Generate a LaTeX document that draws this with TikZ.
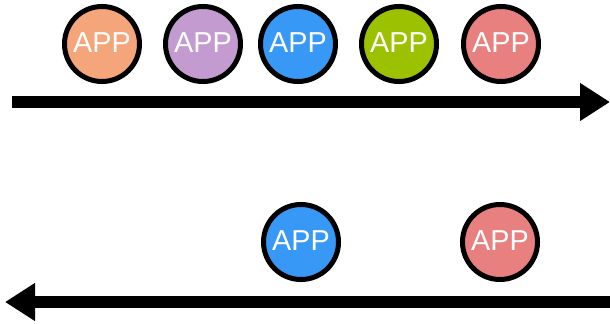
\documentclass[tikz,border=0pt]{standalone}
\usepackage{fontspec}
\setsansfont{Liberation Sans}
\usetikzlibrary{arrows.meta}
\definecolor{apporange}{RGB}{244,165,122}
\definecolor{apppurple}{RGB}{195,155,208}
\definecolor{appblue}{RGB}{55,152,245}
\definecolor{appgreen}{RGB}{155,193,0}
\definecolor{appred}{RGB}{232,128,128}
\tikzset{
  app/.style={circle,draw=black,line width=0.125cm,fill=#1,minimum size=1.875cm,inner sep=0pt,
    text=white,font=\sffamily\fontsize{20.5}{20.5}\selectfont},
  flow/.style={line width=0.3cm,-{Triangle[length=0.75cm,width=0.9cm]}}
}
\begin{document}
\begin{tikzpicture}[x=0.025cm,y=0.025cm]
\useasboundingbox (0,0) rectangle (610,323);
\pgfmathsetmacro{\ktop}{279}
\pgfmathsetmacro{\kbot}{81}
% upper row
\foreach \n/\x/\c in {1/102/apporange,2/203/apppurple,3/298/appblue,4/399/appgreen,5/501/appred}
  \node[app=\c] (up\n) at (\x,\ktop) {\raisebox{2pt}{APP}};
\coordinate (upstart) at (12,221);
\coordinate (upend) at (610,221);
\draw[flow] (upstart)--(upend);
% lower row
\foreach \n/\x/\c in {1/301/appblue,2/500/appred}
  \node[app=\c] (down\n) at (\x,\kbot) {\raisebox{2pt}{APP}};
\coordinate (downstart) at (610,21);
\coordinate (downend) at (5,21);
\draw[flow] (downstart)--(downend);
\end{tikzpicture}
\end{document}
